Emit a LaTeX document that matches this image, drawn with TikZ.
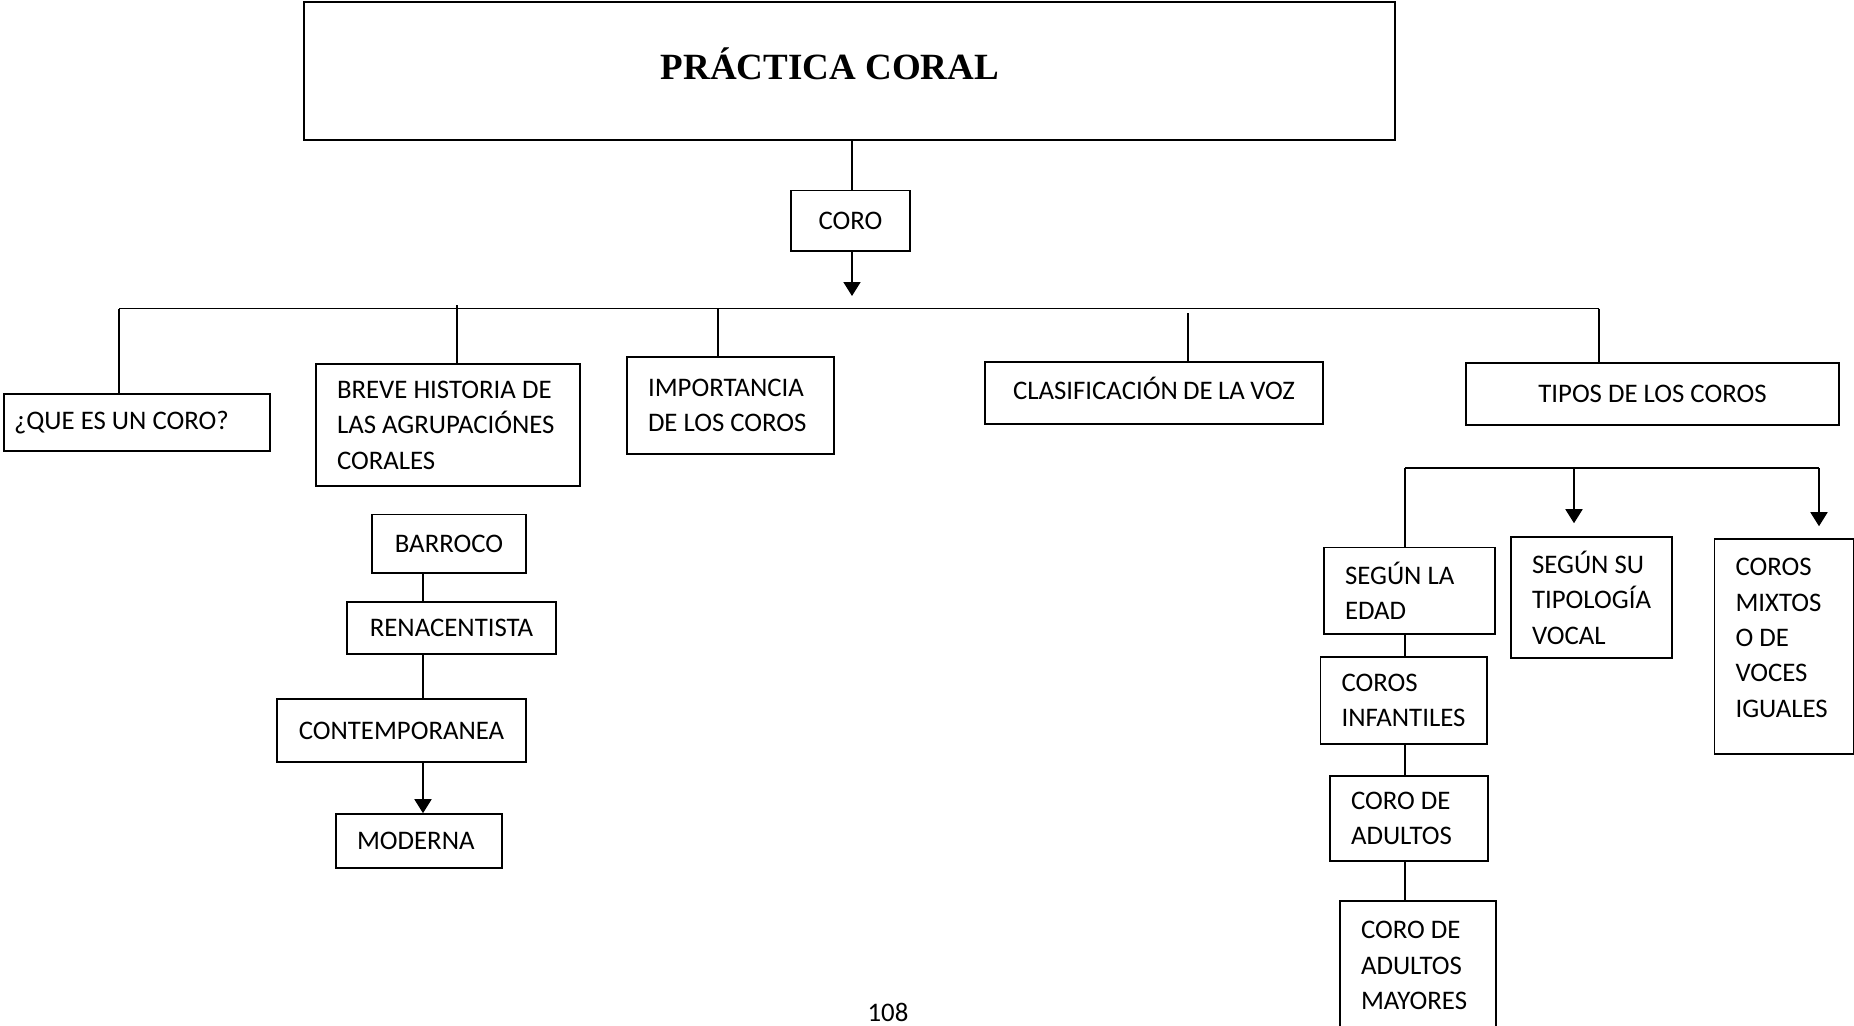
\documentclass[tikz,border=0pt]{standalone}
\usepackage{fontspec}
\setmainfont{Carlito}
\newfontfamily\tituloletra{Liberation Serif}
\usetikzlibrary{arrows.meta}

\tikzset{
	caja/.style={draw, line width=0.8pt, inner xsep=10.5pt, inner ysep=0pt, align=flush left, font=\fontsize{13.4}{17.7}\selectfont},
	cajac/.style={caja, align=center},
	linea/.style={line width=0.9pt},
	flecha/.style={linea, -{Triangle[width=8.5pt, length=7pt]}}
}

\begin{document}
\begin{tikzpicture}[x=0.5pt, y=-0.5pt]
		\useasboundingbox (0,0) rectangle (1854,1025);

		\node[draw, line width=1pt, minimum width=545.5pt, minimum height=69.25pt] (titulo) at (849.5,71) {};
		\node[font=\tituloletra\bfseries\fontsize{18.5}{22}\selectfont, anchor=base] (titulotexto) at (830,79) {PRÁCTICA CORAL};

		\node[cajac, minimum width=59.5pt, minimum height=30.25pt] (coro) at (850.5,220.75) {CORO};

		\node[caja, inner xsep=5pt, text width=123pt, minimum width=133pt, minimum height=28.5pt] (que) at (137,422.5) {¿QUE~ES~UN~CORO?};
		\node[caja, text width=111pt, minimum width=132pt, minimum height=61pt] (breve) at (448,425) {BREVE HISTORIA DE\\LAS~AGRUPACIÓNES\\CORALES};
		\node[caja, text width=82.5pt, minimum width=103.5pt, minimum height=48.5pt] (importancia) at (730.5,405.5) {IMPORTANCIA\\DE~LOS~COROS};
		\node[caja, inner xsep=14pt, text width=141pt, text depth=4.5pt, minimum width=169pt, minimum height=31pt] (clasificacion) at (1154,393) {CLASIFICACIÓN~DE~LA~VOZ};
		\node[cajac, minimum width=186.5pt, minimum height=31pt] (tipos) at (1652.5,394) {TIPOS DE LOS COROS};

		\node[cajac, minimum width=77pt, minimum height=29.25pt] (barroco) at (449,543.75) {BARROCO};
		\node[cajac, minimum width=104.5pt, minimum height=26pt] (renacentista) at (451.5,628) {RENACENTISTA};
		\node[cajac, minimum width=124.5pt, minimum height=31.5pt] (contemporanea) at (401.5,730.5) {CONTEMPORANEA};
		\node[caja, text width=62pt, minimum width=83pt, minimum height=27pt] (moderna) at (419,841) {MODERNA};

		\node[caja, text width=64.5pt, minimum width=85.5pt, minimum height=43.25pt] (edad) at (1409.5,590.75) {SEGÚN LA\\EDAD};
		\node[caja, text width=59.5pt, minimum width=80.5pt, minimum height=60.5pt] (tipologia) at (1591.5,597.5) {SEGÚN SU\\TIPOLOGÍA\\VOCAL};
		\node[caja, text width=48.5pt, minimum width=69.5pt, minimum height=107.5pt] (mixtos) at (1784,646.5) {COROS\\MIXTOS\\O DE\\VOCES\\IGUALES\\[-9pt]\mbox{}};
		\node[caja, text width=62.25pt, minimum width=83.25pt, minimum height=43.5pt] (infantiles) at (1403.75,700.5) {COROS\\INFANTILES};
		\node[caja, text width=58pt, minimum width=79pt, minimum height=42.5pt] (adultos) at (1409,818.5) {CORO DE\\ADULTOS};
		\node[caja, text width=57pt, minimum width=78pt, minimum height=64.5pt] (mayores) at (1418,965.5) {CORO DE\\ADULTOS\\MAYORES};

		\node[font=\fontsize{13.4}{16}\selectfont, inner sep=0pt, anchor=base] (pagina) at (888,1021) {108};

		\coordinate (corofin) at (852,296);
		\coordinate (busizq) at (119,308.5);
		\coordinate (busder) at (1599,308.5);
		\coordinate (b2) at (457,305);
		\coordinate (b3) at (718,308.5);
		\coordinate (b4) at (1188,313);
		\coordinate (eje) at (423,0);
		\coordinate (t1) at (1405,468);
		\coordinate (t2) at (1574,468);
		\coordinate (t3) at (1819,468);

		\draw[linea]	(titulo.south -| corofin) to (coro.north -| corofin);
		\draw[flecha]	(coro.south -| corofin) to (corofin);

		\draw[linea]	(busizq) to (busder);
		\draw[linea]	(busizq) to (busizq |- que.north);
		\draw[linea]	(b2) to (b2 |- breve.north);
		\draw[linea]	(b3) to (b3 |- importancia.north);
		\draw[linea]	(b4) to (b4 |- clasificacion.north);
		\draw[linea]	(busder) to (busder |- tipos.north);

		\draw[linea]	(barroco.south -| eje) to (renacentista.north -| eje);
		\draw[linea]	(renacentista.south -| eje) to (contemporanea.north -| eje);
		\draw[flecha]	(contemporanea.south -| eje) to (moderna.north -| eje);

		\draw[linea]	(t1) to (t3);
		\draw[linea]	(t1) to (t1 |- edad.north);
		\draw[flecha, shorten >=6.5pt]	(t2) to (t2 |- tipologia.north);
		\draw[flecha, shorten >=6pt]	(t3) to (t3 |- mixtos.north);
		\draw[linea]	(edad.south -| t1) to (infantiles.north -| t1);
		\draw[linea]	(infantiles.south -| t1) to (adultos.north -| t1);
		\draw[linea]	(adultos.south -| t1) to (mayores.north -| t1);
	\end{tikzpicture}
\end{document}
